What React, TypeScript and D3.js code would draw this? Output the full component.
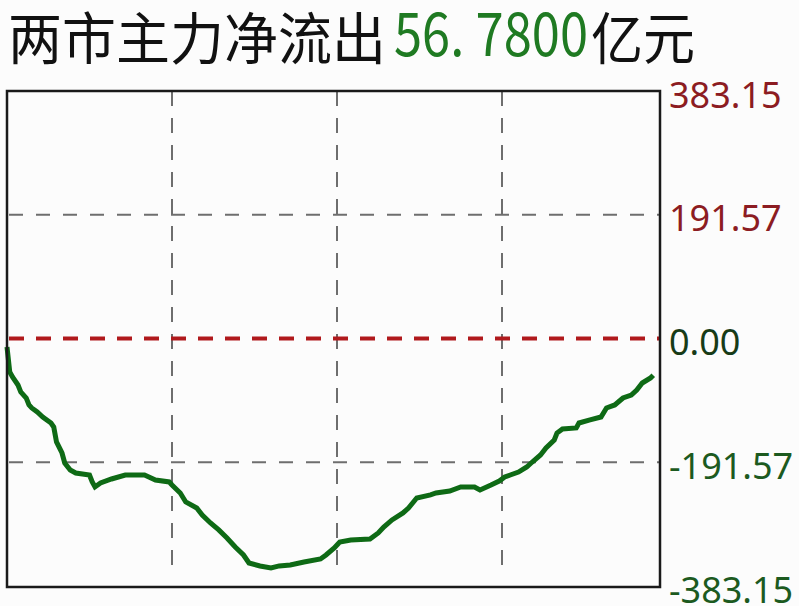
import React from "react";
import * as d3 from "d3";

// minute of the trading session (0..240) and net main-force flow (亿元)
const minutes = [0, 1, 2, 4, 5, 7, 8, 9, 11, 13, 16, 17, 18, 20, 21, 23, 25, 30, 31, 32, 34, 38, 43, 50, 54, 59, 60, 63, 65, 69, 71, 74, 77, 80, 83, 86, 88, 92, 96, 99, 103, 108, 114, 116, 119, 121, 125, 132, 135, 137, 140, 144, 146, 149, 154, 156, 161, 165, 170, 172, 176, 179, 181, 183, 186, 189, 191, 194, 196, 199, 200, 202, 207, 208, 212, 216, 218, 221, 224, 227, 229, 231, 234, 235];
const flows = [-13.2, -51.9, -59.6, -72.0, -82.8, -92.1, -102.9, -107.5, -113.7, -121.5, -130.8, -137.0, -160.2, -177.2, -192.7, -203.5, -208.2, -211.3, -222.1, -229.8, -223.7, -217.5, -211.3, -211.3, -219.0, -222.1, -226.8, -239.2, -253.1, -262.4, -273.2, -285.6, -296.4, -308.8, -322.7, -335.1, -347.5, -352.1, -355.2, -352.1, -350.6, -346.0, -341.3, -335.1, -324.3, -315.0, -311.9, -310.4, -301.1, -291.8, -280.9, -270.1, -262.4, -246.9, -242.2, -239.2, -236.1, -229.9, -229.9, -234.5, -226.8, -220.6, -214.4, -211.3, -206.7, -198.9, -191.2, -180.3, -169.5, -157.1, -146.3, -140.1, -138.5, -130.8, -126.1, -121.5, -107.5, -102.9, -92.1, -87.5, -79.7, -68.9, -61.1, -56.78];
const yTicks = [383.15, 191.57, 0, -191.57, -383.15];
const yTickLabels = ["383.15", "191.57", "0.00", "-191.57", "-383.15"];
const xGridMinutes = [60, 120, 180];
const titleMain = "两市主力净流出";
const titleValue = "56. 7800";
const titleUnit = "亿元";

const W = 799;
const H = 606;
const left = 7;
const top = 91;
const right = 660;
const bottom = 586;

export default function App() {
  const x = d3.scaleLinear().domain([0, 240]).range([left, 667]);
  const y = d3.scaleLinear().domain([-383.15, 383.15]).range([bottom, top]);
  const line = d3
    .line<number>()
    .x((_, i) => x(minutes[i]))
    .y((d) => y(d))
    .curve(d3.curveLinear);

  const labelColor = (v: number) =>
    v > 0 ? "#8c1c22" : v === 0 ? "#173b17" : "#1c5a1f";

  return (
    <svg
      width={W}
      height={H}
      style={{ position: "absolute", left: 0, top: 0, display: "block" }}
    >
      <rect x={0} y={0} width={W} height={H} fill="#fcfcfc" />
      <text
        x={8}
        y={59}
        fontFamily="'Noto Sans CJK SC', sans-serif"
        fontSize={56}
        fill="#111"
        textLength={378}
        lengthAdjust="spacingAndGlyphs"
      >
        {titleMain}
      </text>
      <text
        x={394}
        y={56}
        fontFamily="'Noto Sans CJK SC', sans-serif"
        fontSize={60}
        fill="#1f7a22"
        textLength={194}
        lengthAdjust="spacingAndGlyphs"
      >
        {titleValue}
      </text>
      <text
        x={591}
        y={59}
        fontFamily="'Noto Sans CJK SC', sans-serif"
        fontSize={56}
        fill="#111"
        textLength={104}
        lengthAdjust="spacingAndGlyphs"
      >
        {titleUnit}
      </text>

      {/* horizontal grid */}
      {yTicks
        .filter((v) => v !== 0 && Math.abs(v) < 383)
        .map((v) => (
          <line
            key={"h" + v}
            x1={left + 2}
            x2={right}
            y1={y(v)}
            y2={y(v)}
            stroke="#6e6e6e"
            strokeWidth={2}
            strokeDasharray="14 13"
          />
        ))}
      {/* vertical grid */}
      {xGridMinutes.map((m) => (
        <line
          key={"v" + m}
          x1={x(m)}
          x2={x(m)}
          y1={top}
          y2={bottom - 10}
          stroke="#6e6e6e"
          strokeWidth={2}
          strokeDasharray="15 12"
        />
      ))}
      {/* zero line */}
      <line
        x1={left + 2}
        x2={right}
        y1={y(0)}
        y2={y(0)}
        stroke="#b0191c"
        strokeWidth={4}
        strokeDasharray="15 12"
      />
      {/* flow line */}
      <path
        d={line(flows) || ""}
        fill="none"
        stroke="#0e6a15"
        strokeWidth={5}
        strokeLinejoin="miter"
      />
      {/* frame */}
      <rect
        x={left}
        y={top}
        width={right - left}
        height={bottom - top + 1}
        fill="none"
        stroke="#1a1a1a"
        strokeWidth={2.5}
      />
      {/* right axis labels */}
      {yTicks.map((v, i) => (
        <text
          key={"t" + v}
          x={669}
          y={y(v) + 3}
          dominantBaseline="central"
          fontFamily="'Noto Sans', sans-serif"
          fontSize={36}
          fill={labelColor(v)}
        >
          {yTickLabels[i]}
        </text>
      ))}
    </svg>
  );
}
